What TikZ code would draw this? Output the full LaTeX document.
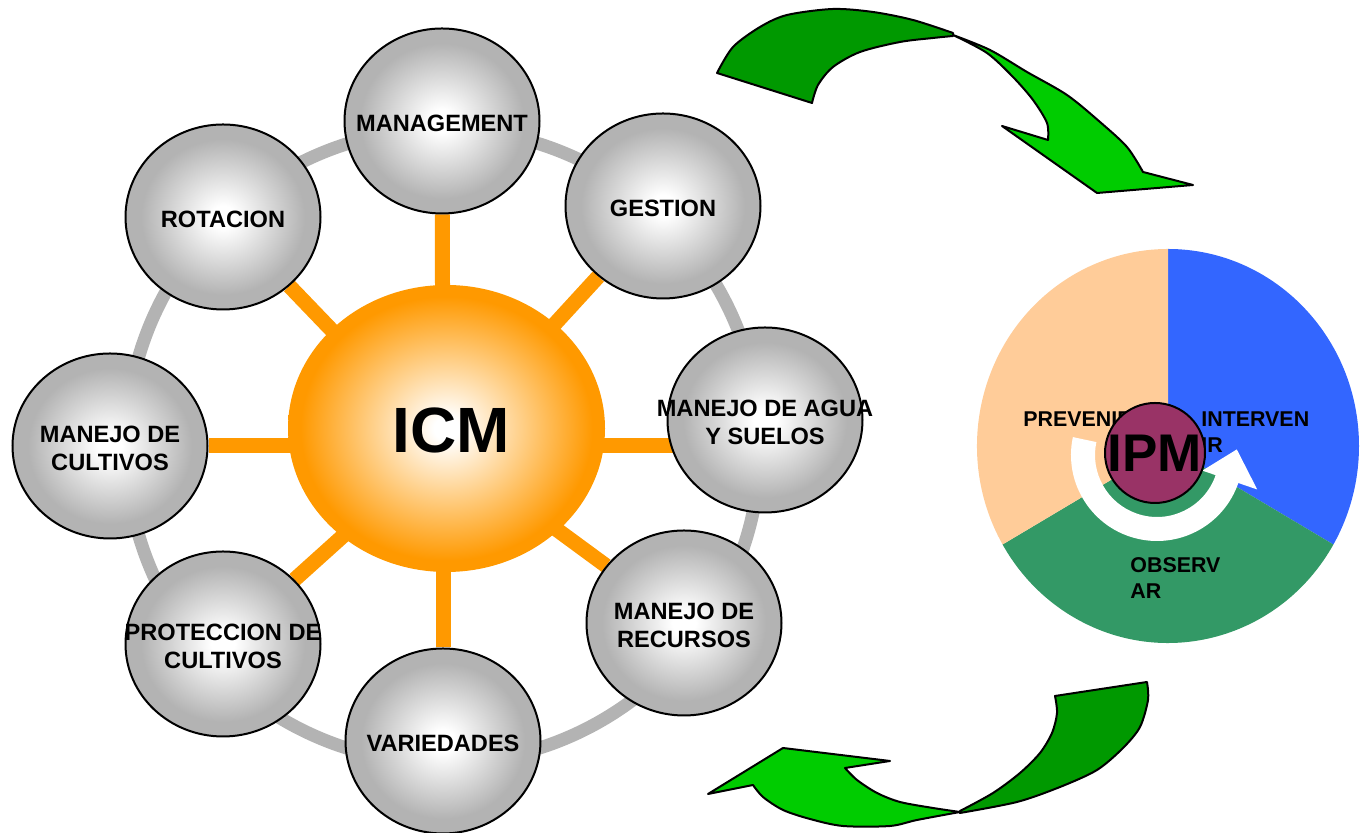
\documentclass[tikz,border=0pt]{standalone}
\usepackage{fontspec}
\setmainfont{Liberation Sans}
\usetikzlibrary{shapes.geometric}
\usetikzlibrary{calc}
\pgfdeclarelayer{background}
\pgfsetlayers{background,main}

\definecolor{ringgray}{HTML}{B3B3B3}
\definecolor{spokeorange}{HTML}{FF9900}
\definecolor{peach}{HTML}{FFCC99}
\definecolor{pieblue}{HTML}{3366FF}
\definecolor{piegreen}{HTML}{339966}
\definecolor{ipmplum}{HTML}{993366}
\definecolor{darkgreen}{HTML}{009900}
\definecolor{lightgreen}{HTML}{00CC00}

\pgfdeclareradialshading{ballshade}{\pgfpoint{0bp}{0bp}}{color(0bp)=(white); color(3bp)=(white); color(21bp)=(ringgray); color(50bp)=(ringgray)}
\pgfdeclareradialshading{icmshade}{\pgfpoint{0bp}{0bp}}{color(0bp)=(white); color(2bp)=(white); color(23bp)=(spokeorange); color(50bp)=(spokeorange)}

\newcommand{\ballbox}[1]{\raisebox{-2.5pt}[\height][\depth]{\makebox[0pt]{\begin{tabular}{@{}c@{}}#1\end{tabular}}}}

\tikzset{
  ball/.style={shape=ellipse, draw=black, line width=1pt, shade, shading=ballshade,
    minimum width=97.5pt, minimum height=92.5pt, inner sep=0pt,
    font=\fontsize{11.8}{13.8}\selectfont\bfseries},
  spoke/.style={draw=spokeorange, line width=7.5pt},
  pietext/.style={anchor=base west, inner sep=0pt, font=\fontsize{10.7}{13}\selectfont\bfseries},
  swoosh/.style={draw=black, line width=1pt, line join=round}
}

\begin{document}
\begin{tikzpicture}[x=0.5pt,y=0.5pt]
  \useasboundingbox (0,0) rectangle (1362,833);

  % ICM wheel
  \coordinate (hub) at (443,387);
  \node[shape=ellipse, shade, shading=icmshade, minimum width=158.5pt, minimum height=143.5pt,
    inner sep=0pt, font=\fontsize{32}{36}\selectfont\bfseries] (icm) at (446.5,404.5)
    {\raisebox{-1pt}[\height][\depth]{\makebox[0pt]{\hspace{5pt}ICM}}};

  \node[ball] (mgmt) at (442,712) {\ballbox{MANAGEMENT}};
  \node[ball] (gest) at (663,627) {\ballbox{GESTION}};
  \node[ball] (agua) at (765,413) {\ballbox{MANEJO DE AGUA\\Y SUELOS}};
  \node[ball] (recu) at (684,210) {\ballbox{MANEJO DE\\RECURSOS}};
  \node[ball] (vari) at (443,92) {\ballbox{VARIEDADES}};
  \node[ball] (prot) at (223,189) {\ballbox{PROTECCION DE\\CULTIVOS}};
  \node[ball] (cult) at (110,387) {\ballbox{MANEJO DE\\CULTIVOS}};
  \node[ball] (rota) at (223,616) {\ballbox{ROTACION}};

  \begin{pgfonlayer}{background}
    \draw[ringgray, line width=6.5pt] (hub) circle[radius=317];
    \foreach \s in {mgmt,gest,recu,vari,prot,cult,rota}
      \draw[spoke] (hub) -- (\s);
    \draw[spoke] (hub) -- (hub -| agua);
  \end{pgfonlayer}

  % IPM pie
  \coordinate (pie) at (1168,387);
  \begin{scope}[shift={(pie)}]
    \fill[pieblue] (0,0) -- (90:191 and 197) arc[start angle=90, end angle=-30, x radius=191, y radius=197] -- cycle;
    \fill[piegreen] (0,0) -- (-30:191 and 197) arc[start angle=-30, end angle=-150, x radius=191, y radius=197] -- cycle;
    \fill[peach] (0,0) -- (210:191 and 197) arc[start angle=210, end angle=90, x radius=191, y radius=197] -- cycle;
  \end{scope}

  \node[pietext] (prev) at (1023,406) {PREVENIR};
  \node[pietext] (interv) at (1201,406) {\begin{tabular}[t]{@{}l@{}}INTERVEN\\IR\end{tabular}};
  \node[pietext] (obs) at (1130,260) {\begin{tabular}[t]{@{}l@{}}OBSERV\\AR\end{tabular}};

  \begin{scope}[shift={(1157,378)}]
    \fill[white] (168:86) arc[start angle=168, end angle=341, radius=86] -- (341:106) -- (4:80)
      -- (341:48) -- (341:62) arc[start angle=341, end angle=168, radius=62] -- cycle;
  \end{scope}

  \node[circle, fill=ipmplum, draw=black, line width=1pt, minimum size=50pt, inner sep=0pt,
    font=\fontsize{26.5}{30}\selectfont\bfseries] (ipm) at (1155,380) {\makebox[0pt]{IPM}};

  % green arrows
  \filldraw[swoosh, fill=darkgreen] plot[smooth] coordinates {(717,760) (733,786) (760,806) (787,818) (833,824) (873,821) (913,813) (953,800)}
    -- plot[smooth] coordinates {(953,797) (933,795) (900,791) (860,781) (833,766) (818,748) (812,730)} -- cycle;
  \filldraw[swoosh, fill=lightgreen] plot[smooth] coordinates {(953,798) (990,783) (1027,761) (1067,738) (1100,711) (1127,686) (1143,661)}
    -- (1193,648) -- (1097,640) -- (1002,707) -- (1048,693)
    -- plot[smooth] coordinates {(1048,693) (1047,710) (1033,733) (1013,756) (987,780) (953,798)} -- cycle;

  \filldraw[swoosh, fill=darkgreen] (1055,137) -- plot[smooth] coordinates {(1147,151) (1148,133) (1140,106) (1123,85) (1097,63) (1060,46) (1017,31) (960,20)}
    -- plot[smooth] coordinates {(960,22) (993,40) (1020,60) (1040,80) (1052,100) (1057,120) (1055,137)} -- cycle;
  \filldraw[swoosh, fill=lightgreen] plot[smooth] coordinates {(960,21) (917,13) (890,7) (843,7) (810,14) (783,23) (763,36) (753,48)}
    -- (708,39) -- (783,85) -- (890,72) -- (845,65)
    -- plot[smooth] coordinates {(845,65) (857,53) (877,40) (900,31) (933,25) (960,21)} -- cycle;
\end{tikzpicture}
\end{document}
